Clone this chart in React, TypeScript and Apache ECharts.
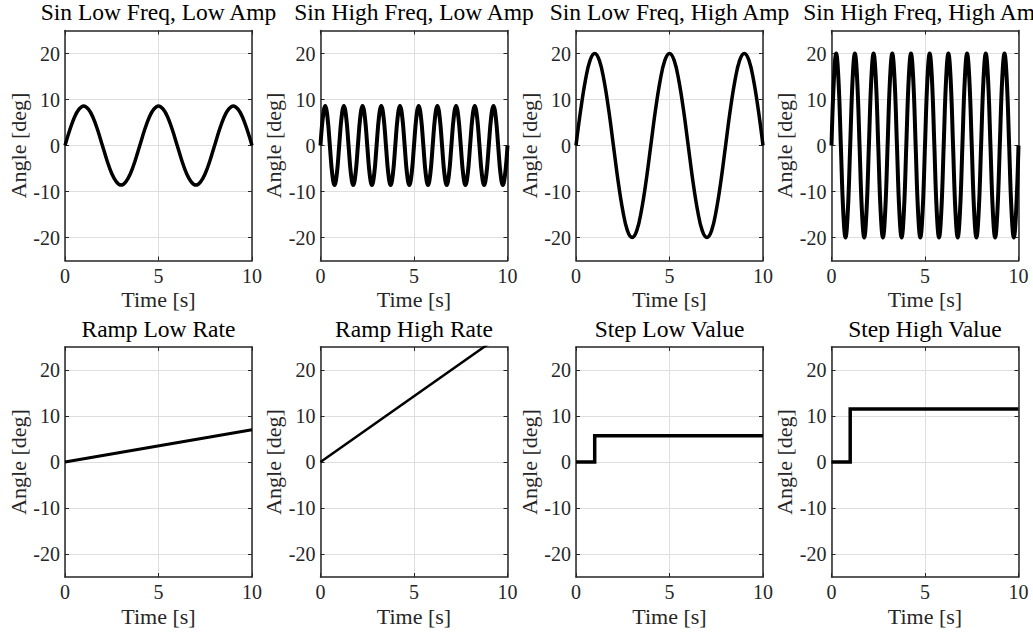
import React, { useEffect, useRef } from "react";
import * as echarts from "echarts";

const titles = [
  "Sin Low Freq, Low Amp",
  "Sin High Freq, Low Amp",
  "Sin Low Freq, High Amp",
  "Sin High Freq, High Amp",
  "Ramp Low Rate",
  "Ramp High Rate",
  "Step Low Value",
  "Step High Value",
];

const xTicks = [0, 5, 10];
const yTicks = [-20, -10, 0, 10, 20];
const xLabel = "Time [s]";
const yLabel = "Angle [deg]";

// Sampled every 0.25 s (period 4 s)
const sinLowFreqLowAmpDt = 0.25;
const sinLowFreqLowAmp = [
  0, 3.3, 6.1, 7.9, 8.6, 7.9, 6.1, 3.3, 0, -3.3, -6.1, -7.9, -8.6, -7.9, -6.1, -3.3,
  0, 3.3, 6.1, 7.9, 8.6, 7.9, 6.1, 3.3, 0, -3.3, -6.1, -7.9, -8.6, -7.9, -6.1, -3.3,
  0, 3.3, 6.1, 7.9, 8.6, 7.9, 6.1, 3.3, 0,
];

// Sampled every 0.125 s (period 1 s)
const sinHighFreqLowAmpDt = 0.125;
const sinHighFreqLowAmp = [
  0, 6.1, 8.6, 6.1, 0, -6.1, -8.6, -6.1,
  0, 6.1, 8.6, 6.1, 0, -6.1, -8.6, -6.1,
  0, 6.1, 8.6, 6.1, 0, -6.1, -8.6, -6.1,
  0, 6.1, 8.6, 6.1, 0, -6.1, -8.6, -6.1,
  0, 6.1, 8.6, 6.1, 0, -6.1, -8.6, -6.1,
  0, 6.1, 8.6, 6.1, 0, -6.1, -8.6, -6.1,
  0, 6.1, 8.6, 6.1, 0, -6.1, -8.6, -6.1,
  0, 6.1, 8.6, 6.1, 0, -6.1, -8.6, -6.1,
  0, 6.1, 8.6, 6.1, 0, -6.1, -8.6, -6.1,
  0, 6.1, 8.6, 6.1, 0, -6.1, -8.6, -6.1,
  0,
];

const sinLowFreqHighAmpDt = 0.25;
const sinLowFreqHighAmp = [
  0, 7.7, 14.1, 18.5, 20, 18.5, 14.1, 7.7, 0, -7.7, -14.1, -18.5, -20, -18.5, -14.1, -7.7,
  0, 7.7, 14.1, 18.5, 20, 18.5, 14.1, 7.7, 0, -7.7, -14.1, -18.5, -20, -18.5, -14.1, -7.7,
  0, 7.7, 14.1, 18.5, 20, 18.5, 14.1, 7.7, 0,
];

const sinHighFreqHighAmpDt = 0.125;
const sinHighFreqHighAmp = [
  0, 14.1, 20, 14.1, 0, -14.1, -20, -14.1,
  0, 14.1, 20, 14.1, 0, -14.1, -20, -14.1,
  0, 14.1, 20, 14.1, 0, -14.1, -20, -14.1,
  0, 14.1, 20, 14.1, 0, -14.1, -20, -14.1,
  0, 14.1, 20, 14.1, 0, -14.1, -20, -14.1,
  0, 14.1, 20, 14.1, 0, -14.1, -20, -14.1,
  0, 14.1, 20, 14.1, 0, -14.1, -20, -14.1,
  0, 14.1, 20, 14.1, 0, -14.1, -20, -14.1,
  0, 14.1, 20, 14.1, 0, -14.1, -20, -14.1,
  0, 14.1, 20, 14.1, 0, -14.1, -20, -14.1,
  0,
];

const rampLowT = [0, 10];
const rampLow = [0, 7];
const rampHighT = [0, 10];
const rampHigh = [0, 28.6];
const stepLowT = [0, 1, 1, 10];
const stepLow = [0, 0, 5.7, 5.7];
const stepHighT = [0, 1, 1, 10];
const stepHigh = [0, 0, 11.5, 11.5];

const FONT = "'Liberation Serif', 'Times New Roman', serif";
const AXIS_COLOR = "#262626";

function sampled(values: number[], dt: number) {
  return values.map((v, i) => [i * dt, v]);
}
function paired(ts: number[], vs: number[]) {
  return vs.map((v, i) => [ts[i], v]);
}

export default function App() {
  const ref = useRef<HTMLDivElement>(null);
  useEffect(() => {
    const chart = echarts.init(ref.current!, null, { renderer: "svg" });
    const seriesData = [
      { data: sampled(sinLowFreqLowAmp, sinLowFreqLowAmpDt), smooth: true, w: 3.5 },
      { data: sampled(sinHighFreqLowAmp, sinHighFreqLowAmpDt), smooth: true, w: 4 },
      { data: sampled(sinLowFreqHighAmp, sinLowFreqHighAmpDt), smooth: true, w: 3.5 },
      { data: sampled(sinHighFreqHighAmp, sinHighFreqHighAmpDt), smooth: true, w: 4 },
      { data: paired(rampLowT, rampLow), smooth: false, w: 3 },
      { data: paired(rampHighT, rampHigh), smooth: false, w: 2.5 },
      { data: paired(stepLowT, stepLow), smooth: false, w: 3.5 },
      { data: paired(stepHighT, stepHigh), smooth: false, w: 3.5 },
    ];
    const lefts = [65, 320.5, 576, 831.5];
    const tops = [30.5, 347];
    const W = 187;
    const H = 230;
    const grids: any[] = [];
    const xAxes: any[] = [];
    const yAxes: any[] = [];
    const series: any[] = [];
    const title: any[] = [];
    for (let i = 0; i < 8; i++) {
      const col = i % 4;
      const row = Math.floor(i / 4);
      grids.push({ left: lefts[col], top: tops[row], width: W, height: H, containLabel: false });
      title.push({
        text: titles[i],
        left: lefts[col] + W / 2,
        top: row === 0 ? 0 : 317,
        textAlign: "center",
        padding: 0,
        textStyle: { fontFamily: FONT, fontSize: 23.5, fontWeight: "normal", color: "#000" },
      });
      const common = {
        type: "value",
        gridIndex: i,
        axisLine: { show: true, onZero: false, lineStyle: { color: AXIS_COLOR, width: 1.5 } },
        axisTick: { show: true, inside: true, length: 4, lineStyle: { color: AXIS_COLOR, width: 1 } },
      };
      xAxes.push({
        ...common,
        position: "bottom",
        min: 0,
        max: 10,
        interval: 5,
        name: xLabel,
        nameLocation: "middle",
        nameGap: 28,
        nameTextStyle: { fontFamily: FONT, fontSize: 22, color: "#262626" },
        axisLabel: { fontFamily: FONT, fontSize: 20, color: "#262626", margin: 5 },
        splitLine: { show: true, lineStyle: { color: "#dedede", width: 1 } },
      });
      xAxes.push({
        ...common,
        position: "top",
        min: 0,
        max: 10,
        interval: 5,
        axisLabel: { show: false },
        splitLine: { show: false },
      });
      yAxes.push({
        ...common,
        position: "left",
        min: -25,
        max: 25,
        interval: 10,
        axisTick: { ...common.axisTick, customValues: yTicks },
        axisLabel: { fontFamily: FONT, fontSize: 20, color: "#262626", margin: 5, customValues: yTicks },
        splitLine: { show: true, lineStyle: { color: "#dedede", width: 1 } },
        name: yLabel,
        nameLocation: "middle",
        nameGap: 34,
        nameTextStyle: { fontFamily: FONT, fontSize: 22, color: "#262626" },
      });
      yAxes.push({
        ...common,
        position: "right",
        min: -25,
        max: 25,
        interval: 10,
        axisTick: { ...common.axisTick, customValues: yTicks },
        axisLabel: { show: false },
        splitLine: { show: false },
      });
      series.push({
        type: "line",
        xAxisIndex: 2 * i,
        yAxisIndex: 2 * i,
        data: seriesData[i].data,
        smooth: seriesData[i].smooth ? 0.4 : false,
        showSymbol: false,
        symbol: "none",
        clip: true,
        lineStyle: { color: "#000", width: seriesData[i].w, cap: "butt", join: "miter" },
      });
    }
    chart.setOption({
      animation: false,
      backgroundColor: "#fff",
      title,
      grid: grids,
      xAxis: xAxes,
      yAxis: yAxes,
      series,
    });
    return () => chart.dispose();
  }, []);
  return (
    <div
      ref={ref}
      style={{ position: "absolute", left: 0, top: 0, width: 1033, height: 634 }}
    />
  );
}
